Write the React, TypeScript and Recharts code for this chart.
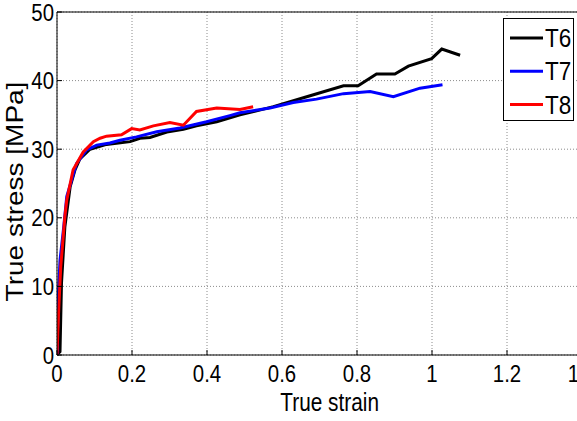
import { CartesianGrid, Line, LineChart, ReferenceLine, XAxis, YAxis } from 'recharts';

// true strain / true stress [MPa] per specimen
const t6Strain = [0, 0.008, 0.012, 0.021, 0.035, 0.048, 0.061, 0.088, 0.132, 0.195, 0.221, 0.248, 0.293, 0.337, 0.372, 0.426, 0.488, 0.577, 0.666, 0.764, 0.803, 0.852, 0.901, 0.937, 0.999, 1.026, 1.075];
const t6Stress = [0, 0.5, 10.5, 18.7, 24.5, 27, 28.6, 30.0, 30.7, 31.1, 31.6, 31.7, 32.5, 32.9, 33.4, 34.0, 35.0, 36.2, 37.65, 39.25, 39.25, 40.96, 40.96, 42.1, 43.2, 44.6, 43.7];

const t7Strain = [0, 0.003, 0.008, 0.017, 0.026, 0.052, 0.079, 0.106, 0.141, 0.168, 0.212, 0.266, 0.328, 0.399, 0.461, 0.488, 0.568, 0.63, 0.692, 0.764, 0.835, 0.897, 0.968, 1.028];
const t7Stress = [0, 8, 13.8, 18.2, 23.1, 27.9, 29.9, 30.6, 30.9, 31.3, 31.8, 32.55, 33.1, 34.0, 34.9, 35.3, 36.0, 36.8, 37.3, 38.1, 38.4, 37.65, 38.9, 39.4];

const t8Strain = [0, 0.004, 0.01, 0.021, 0.026, 0.043, 0.07, 0.097, 0.115, 0.132, 0.172, 0.199, 0.221, 0.257, 0.301, 0.337, 0.372, 0.426, 0.488, 0.523];
const t8Stress = [0, 6, 12.9, 20.2, 22.6, 27, 29.6, 31.1, 31.6, 31.9, 32.1, 33.0, 32.8, 33.4, 33.9, 33.5, 35.5, 36.0, 35.8, 36.2];

const xTicks = [0, 0.2, 0.4, 0.6, 0.8, 1, 1.2, 1.4];
const yTicks = [0, 10, 20, 30, 40, 50];

const toPoints = (strain: number[], stress: number[]) =>
  strain.map((x, i) => ({ strain: x, stress: stress[i] }));

const series = [
  { name: 'T6', color: '#000000', data: toPoints(t6Strain, t6Stress) },
  { name: 'T7', color: '#0000ff', data: toPoints(t7Strain, t7Stress) },
  { name: 'T8', color: '#ff0000', data: toPoints(t8Strain, t8Stress) },
];

const FONT = '"Liberation Sans", Arial, Helvetica, sans-serif';

function XTick({ x, y, payload }: any) {
  return (
    <g transform={`translate(${x},${y + 17})`}>
      <text transform="scale(0.85,1)" textAnchor="middle" fontFamily={FONT} fontSize={24} fill="#000">
        {payload.value}
      </text>
    </g>
  );
}

function YTick({ x, y, payload }: any) {
  return (
    <g transform={`translate(${x},${y + 8.5})`}>
      <text transform="scale(0.85,1)" textAnchor="end" fontFamily={FONT} fontSize={24} fill="#000">
        {payload.value}
      </text>
    </g>
  );
}

// boxed legend in the upper right corner of the axes
function LegendBox() {
  return (
    <div
      style={{
        position: 'absolute',
        left: 503,
        top: 18,
        width: 71,
        height: 103,
        border: '1px solid #000',
        background: '#fff',
        boxSizing: 'border-box',
      }}
    >
      <svg width={69} height={101} style={{ display: 'block' }}>
        {series.map((s, i) => (
          <g key={s.name} transform={`translate(0,${19 + i * 33.3})`}>
            <line x1={6} x2={39} y1={0} y2={0} stroke={s.color} strokeWidth={3} />
            <g transform="translate(41,9)">
              <text transform="scale(0.9,1)" fontFamily={FONT} fontSize={25} fill="#000">
                {s.name}
              </text>
            </g>
          </g>
        ))}
      </svg>
    </div>
  );
}

export default function App() {
  return (
    <div style={{ position: 'absolute', left: 0, top: 0, width: 577, height: 421, overflow: 'hidden', background: '#fff' }}>
      <LineChart width={600} height={421} margin={{ top: 12, right: 18, bottom: 0, left: 0 }}>
        <CartesianGrid stroke="#8c8c8c" strokeDasharray="1 2" horizontal vertical />
        <XAxis
          dataKey="strain"
          type="number"
          domain={[0, 1.4]}
          ticks={xTicks}
          allowDataOverflow
          height={66}
          stroke="#000"
          tickSize={-5}
          tickMargin={15}
          tick={<XTick />}
        />
        <XAxis
          xAxisId="top"
          orientation="top"
          type="number"
          domain={[0, 1.4]}
          ticks={xTicks}
          height={0}
          stroke="#000"
          tickSize={-5}
          tick={() => <g />}
        />
        <YAxis
          dataKey="stress"
          type="number"
          domain={[0, 50]}
          ticks={yTicks}
          width={57}
          stroke="#000"
          tickSize={-5}
          tickMargin={8}
          tick={<YTick />}
          label={({ viewBox }: any) => (
            <g transform={`translate(23,${viewBox.y + viewBox.height / 2 + 8})`}>
              <g transform="scale(0.85,1) rotate(-90)">
                <text textAnchor="middle" fontFamily={FONT} fontSize={28} fill="#000">
                  True stress [MPa]
                </text>
              </g>
            </g>
          )}
        />
        <ReferenceLine y={50} stroke="#000" />
        <ReferenceLine x={1.4} stroke="#000" />
        {series.map((s) => (
          <Line
            key={s.name}
            data={s.data}
            dataKey="stress"
            name={s.name}
            type="linear"
            stroke={s.color}
            strokeWidth={3}
            dot={false}
            isAnimationActive={false}
          />
        ))}
      </LineChart>
      <LegendBox />
      <div
        style={{
          position: 'absolute',
          left: 268,
          top: 387,
          width: 100,
          textAlign: 'center',
          fontFamily: FONT,
          fontSize: 26,
          lineHeight: '30px',
          whiteSpace: 'nowrap',
        }}
      >
        <span style={{ display: 'inline-block', transform: 'scaleX(0.8)', transformOrigin: 'center' }}>True strain</span>
      </div>
    </div>
  );
}
